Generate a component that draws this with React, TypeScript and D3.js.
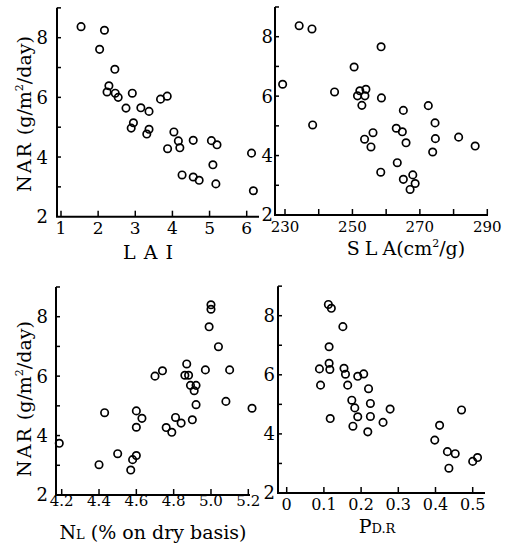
import React from "react";
import * as d3 from "d3";

// ---- data ----
const laiX = [1.54, 2.17, 2.04, 2.45, 2.29, 2.24, 2.46, 2.54, 2.92, 2.75, 3.15, 3.37, 3.68, 3.86, 2.95, 2.89, 3.37, 3.31, 4.04, 4.16, 4.2, 3.87, 4.56, 5.05, 5.2, 5.09, 4.26, 4.56, 4.72, 5.17, 6.13, 6.18];
const laiNAR = [8.37, 8.25, 7.61, 6.94, 6.39, 6.18, 6.14, 6.0, 6.14, 5.64, 5.65, 5.53, 5.94, 6.04, 5.15, 4.97, 4.93, 4.77, 4.84, 4.54, 4.31, 4.28, 4.56, 4.55, 4.41, 3.74, 3.4, 3.33, 3.22, 3.1, 4.13, 2.87];

const slaX = [229.3, 234.2, 238.0, 238.2, 244.7, 250.5, 252.2, 254.0, 251.5, 253.7, 252.8, 258.5, 258.6, 265.1, 272.5, 274.5, 274.6, 273.8, 281.5, 286.4, 256.1, 253.6, 255.5, 263.0, 264.8, 265.9, 263.3, 258.4, 265.1, 267.9, 268.6, 267.1];
const slaNAR = [6.4, 8.37, 8.26, 5.03, 6.14, 6.98, 6.18, 6.23, 6.01, 6.01, 5.69, 7.66, 5.94, 5.52, 5.68, 5.1, 4.57, 4.12, 4.62, 4.32, 4.77, 4.55, 4.29, 4.92, 4.8, 4.43, 3.76, 3.44, 3.2, 3.35, 3.06, 2.86];

const nlX = [4.187, 4.40, 4.43, 4.50, 4.57, 4.58, 4.60, 4.60, 4.60, 4.63, 4.70, 4.74, 4.76, 4.79, 4.81, 4.84, 4.86, 4.88, 4.87, 4.89, 4.92, 4.91, 4.92, 4.90, 4.97, 4.99, 5.00, 5.00, 5.04, 5.10, 5.08, 5.22];
const nlNAR = [3.74, 3.02, 4.77, 3.39, 2.84, 3.19, 3.33, 4.83, 4.28, 4.58, 6.0, 6.18, 4.27, 4.11, 4.61, 4.42, 6.03, 6.03, 6.41, 5.69, 5.69, 5.51, 5.04, 4.53, 6.21, 7.66, 8.40, 8.25, 6.99, 6.21, 5.15, 4.92];

const pdrX = [0.112, 0.120, 0.151, 0.114, 0.114, 0.116, 0.088, 0.091, 0.117, 0.154, 0.158, 0.164, 0.191, 0.207, 0.220, 0.175, 0.183, 0.191, 0.178, 0.225, 0.225, 0.218, 0.259, 0.278, 0.398, 0.411, 0.432, 0.453, 0.436, 0.470, 0.500, 0.513];
const pdrNAR = [8.38, 8.25, 7.63, 6.95, 6.39, 6.18, 6.2, 5.65, 4.52, 6.22, 6.02, 5.65, 5.95, 6.03, 5.53, 5.14, 4.88, 4.58, 4.26, 5.03, 4.59, 4.07, 4.39, 4.84, 3.79, 4.29, 3.40, 3.33, 2.84, 4.81, 3.07, 3.20];

const yTicks = [2, 4, 6, 8];
const yMinor = [3, 4, 5, 6, 7, 8, 9];
const laiTicks = [1, 2, 3, 4, 5, 6];
const slaTicks = [230, 250, 270, 290];
const slaMinor = [240, 260, 280];
const nlTicks = [4.2, 4.4, 4.6, 4.8, 5.0, 5.2];
const pdrTicks = [0, 0.1, 0.2, 0.3, 0.4, 0.5];

const FONT = "DejaVu Serif, Liberation Serif, serif";

type PanelProps = {
  xs: number[];
  ys: number[];
  xDomain: [number, number];
  xRange: [number, number];
  yRange: [number, number];
  axisX: number;
  xEnd: number;
  xTicks: number[];
  xMinor?: number[];
  xFmt: (v: number) => string;
  yLabelGap: number;
  xLabelDy: number;
  xLabelSize: number;
};

function Panel(p: PanelProps) {
  const x = d3.scaleLinear().domain(p.xDomain).range(p.xRange);
  const y = d3.scaleLinear().domain([2, 8]).range(p.yRange);
  const y0 = y(2);
  return (
    <g>
      <line x1={p.axisX} y1={y0} x2={p.axisX} y2={y(9)} stroke="#000" strokeWidth={2} />
      <line x1={p.axisX - 1} y1={y0} x2={p.xEnd} y2={y0} stroke="#000" strokeWidth={2} />
      {yMinor.map((v) => (
        <line key={"ym" + v} x1={p.axisX} x2={p.axisX + 4} y1={y(v)} y2={y(v)} stroke="#000" strokeWidth={1.5} />
      ))}
      {yTicks.map((v) => (
        <text key={"yl" + v} x={p.axisX - p.yLabelGap} y={y(v)} dy="0.36em" textAnchor="end" fontSize={18} fontFamily={FONT} fill="#000">
          {v}
        </text>
      ))}
      {[...p.xTicks, ...(p.xMinor || [])].map((v) => (
        <line key={"xt" + v} x1={x(v)} x2={x(v)} y1={y0} y2={y0 - 6} stroke="#000" strokeWidth={1.5} />
      ))}
      {p.xTicks.map((v) => (
        <text key={"xl" + v} x={x(v)} y={y0 + p.xLabelDy} textAnchor="middle" fontSize={p.xLabelSize} fontFamily={FONT} fill="#000">
          {p.xFmt(v)}
        </text>
      ))}
      {p.xs.map((xv, i) => (
        <circle key={"pt" + i} cx={x(xv)} cy={y(p.ys[i])} r={3.7} fill="none" stroke="#000" strokeWidth={1.7} />
      ))}
    </g>
  );
}

export default function App() {
  return (
    <svg width={508} height={543} style={{ position: "absolute", left: 0, top: 0, background: "#fff" }}>
      <rect width={508} height={543} fill="#fff" />
      <Panel xs={laiX} ys={laiNAR} xDomain={[1, 6]} xRange={[61, 246.7]} yRange={[216.7, 37.7]} axisX={57} xEnd={259}
        xTicks={laiTicks} xFmt={(v) => String(v)} yLabelGap={9} xLabelDy={17} xLabelSize={17} />
      <Panel xs={slaX} ys={slaNAR} xDomain={[230, 290]} xRange={[285, 487.3]} yRange={[215, 36.7]} axisX={275} xEnd={488}
        xTicks={slaTicks} xMinor={slaMinor} xFmt={(v) => String(v)} yLabelGap={2} xLabelDy={17} xLabelSize={15} />
      <Panel xs={nlX} ys={nlNAR} xDomain={[4.2, 5.2]} xRange={[61.7, 248.3]} yRange={[495, 316.7]} axisX={56} xEnd={250}
        xTicks={nlTicks} xFmt={(v) => v.toFixed(1)} yLabelGap={8} xLabelDy={11} xLabelSize={15} />
      <Panel xs={pdrX} ys={pdrNAR} xDomain={[0, 0.5]} xRange={[286.7, 472.7]} yRange={[493, 315.7]} axisX={278} xEnd={485}
        xTicks={pdrTicks} xMinor={[]} xFmt={(v) => (v === 0 ? "0" : v.toFixed(1))} yLabelGap={3} xLabelDy={17} xLabelSize={16} />

      {/* y titles */}
      <text transform="translate(31,114) rotate(-90)" textAnchor="middle" fontSize={19} fontFamily={FONT} fill="#000">
        <tspan letterSpacing="2">NAR</tspan> (g/m<tspan fontSize={11} dy={-8}>2</tspan><tspan dy={8}>/day)</tspan>
      </text>
      <text transform="translate(31,399) rotate(-90)" textAnchor="middle" fontSize={19} fontFamily={FONT} fill="#000">
        <tspan letterSpacing="2">NAR</tspan> (g/m<tspan fontSize={11} dy={-8}>2</tspan><tspan dy={8}>/day)</tspan>
      </text>

      {/* x titles */}
      <text x={152} y={259} textAnchor="middle" fontSize={19} fontFamily={FONT} fill="#000" letterSpacing="8">
        LAI
      </text>
      <text x={406} y={255} textAnchor="middle" fontSize={19} fontFamily={FONT} fill="#000">
        <tspan letterSpacing="5">SL</tspan>A(cm<tspan fontSize={11} dy={-8}>2</tspan><tspan dy={8}>/g)</tspan>
      </text>
      <text x={153} y={539} textAnchor="middle" fontSize={19} fontFamily={FONT} fill="#000">
        N<tspan fontSize={13}>L</tspan> (% on dry basis)
      </text>
      <text x={377} y={533} textAnchor="middle" fontSize={19} fontFamily={FONT} fill="#000">
        P<tspan fontSize={13}>D.R</tspan>
      </text>
    </svg>
  );
}
